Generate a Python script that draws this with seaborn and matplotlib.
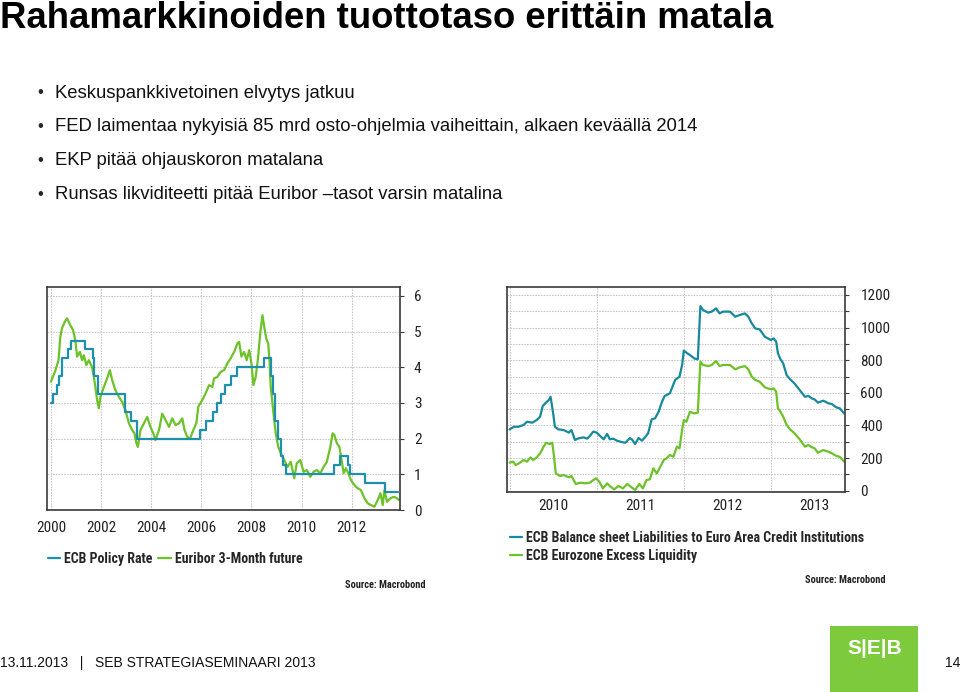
import numpy as np
import pandas as pd
import matplotlib
matplotlib.use("Agg")
import matplotlib.pyplot as plt
import matplotlib.font_manager as fm
from matplotlib.patches import Rectangle
import seaborn as sns

# --- data ---
policy_t = [2000.0, 2000.08, 2000.22, 2000.32, 2000.45, 2000.68, 2000.78, 2001.37, 2001.68,
            2001.71, 2001.87, 2002.94, 2003.19, 2003.45, 2005.93, 2006.2, 2006.47, 2006.62,
            2006.78, 2006.95, 2007.2, 2007.44, 2008.51, 2008.79, 2008.87, 2008.94, 2009.05,
            2009.19, 2009.27, 2009.36, 2011.28, 2011.53, 2011.86, 2011.95, 2012.53, 2013.35, 2013.85]
policy_rate = [3.0, 3.25, 3.5, 3.75, 4.25, 4.5, 4.75, 4.5, 4.25, 3.75, 3.25, 2.75, 2.5, 2.0, 2.25,
               2.5, 2.75, 3.0, 3.25, 3.5, 3.75, 4.0, 4.25, 3.75, 3.25, 2.5, 2.0, 1.5, 1.25, 1.0,
               1.25, 1.5, 1.25, 1.0, 0.75, 0.5, 0.5]

euribor_t = [2000.0, 2000.17, 2000.3, 2000.37, 2000.44, 2000.57, 2000.64, 2000.77, 2000.88, 2000.97,
             2001.04, 2001.15, 2001.24, 2001.31, 2001.41, 2001.51, 2001.64, 2001.71, 2001.77, 2001.84,
             2001.91, 2001.97, 2002.11, 2002.24, 2002.35, 2002.44, 2002.57, 2002.71, 2002.84, 2002.97,
             2003.11, 2003.24, 2003.33, 2003.41, 2003.47, 2003.57, 2003.71, 2003.84, 2003.97, 2004.08,
             2004.17, 2004.31, 2004.44, 2004.57, 2004.71, 2004.84, 2004.97, 2005.11, 2005.24, 2005.33,
             2005.44, 2005.55, 2005.68, 2005.8, 2005.88, 2006.04, 2006.17, 2006.31, 2006.44, 2006.51,
             2006.64, 2006.77, 2006.91, 2007.04, 2007.17, 2007.31, 2007.44, 2007.51, 2007.6, 2007.71,
             2007.81, 2007.91, 2008.0, 2008.08, 2008.17, 2008.27, 2008.35, 2008.44, 2008.51, 2008.59,
             2008.67, 2008.72, 2008.77, 2008.88, 2008.97, 2009.07, 2009.17, 2009.31, 2009.44, 2009.57,
             2009.71, 2009.81, 2009.95, 2010.08, 2010.21, 2010.35, 2010.48, 2010.61, 2010.75, 2010.88,
             2011.01, 2011.15, 2011.24, 2011.31, 2011.41, 2011.51, 2011.6, 2011.68, 2011.77, 2011.87,
             2011.97, 2012.11, 2012.24, 2012.37, 2012.51, 2012.64, 2012.77, 2012.91, 2013.04, 2013.15,
             2013.24, 2013.31, 2013.41, 2013.55, 2013.68, 2013.81, 2013.88]
euribor_v = [3.6, 3.9, 4.2, 4.85, 5.1, 5.3, 5.37, 5.18, 5.04, 4.76,
             4.3, 4.43, 4.2, 4.34, 4.06, 4.2, 4.0, 3.73, 3.45, 3.08,
             2.85, 3.17, 3.45, 3.69, 3.92, 3.64, 3.36, 3.17, 3.03, 2.8,
             2.43, 2.24, 2.15, 1.87, 1.77, 2.24, 2.43, 2.61, 2.33, 2.15,
             1.96, 2.24, 2.7, 2.52, 2.33, 2.57, 2.38, 2.43, 2.57, 2.24,
             2.05, 2.0, 2.24, 2.43, 2.9, 3.08, 3.27, 3.5, 3.45, 3.69,
             3.73, 3.87, 3.92, 4.11, 4.25, 4.43, 4.67, 4.71, 4.3, 4.43,
             4.2, 4.48, 4.11, 3.5, 3.73, 4.3, 4.95, 5.46, 5.14, 4.81,
             4.67, 4.2, 3.45, 2.71, 2.15, 1.77, 1.59, 1.4, 1.21, 1.35,
             0.89, 1.31, 1.4, 1.07, 1.12, 0.93, 1.07, 1.12, 1.03, 1.21,
             1.35, 1.77, 2.15, 2.1, 1.87, 1.77, 1.4, 1.03, 1.17, 1.03,
             0.84, 0.7, 0.61, 0.56, 0.33, 0.19, 0.14, 0.09, 0.28, 0.47,
             0.14, 0.56, 0.23, 0.33, 0.37, 0.33, 0.28]

balance_t = [2010.0, 2010.05, 2010.1, 2010.16, 2010.2, 2010.26, 2010.31, 2010.35, 2010.38, 2010.41,
             2010.45, 2010.47, 2010.5, 2010.52, 2010.56, 2010.62, 2010.68, 2010.71, 2010.75, 2010.79,
             2010.85, 2010.89, 2010.92, 2010.96, 2011.0, 2011.04, 2011.08, 2011.12, 2011.15, 2011.19,
             2011.23, 2011.29, 2011.33, 2011.38, 2011.41, 2011.44, 2011.48, 2011.52, 2011.56, 2011.59,
             2011.63, 2011.67, 2011.71, 2011.75, 2011.78, 2011.84, 2011.9, 2011.95, 2011.98, 2012.0,
             2012.03, 2012.07, 2012.12, 2012.16, 2012.19, 2012.22, 2012.28, 2012.32, 2012.37, 2012.41,
             2012.45, 2012.53, 2012.59, 2012.64, 2012.7, 2012.74, 2012.78, 2012.82, 2012.87, 2012.93,
             2013.0, 2013.03, 2013.06, 2013.08, 2013.11, 2013.14, 2013.18, 2013.22, 2013.27, 2013.33,
             2013.39, 2013.43, 2013.47, 2013.5, 2013.54, 2013.6, 2013.66, 2013.7, 2013.75, 2013.79, 2013.84]
balance_v = [376, 392, 392, 403, 423, 417, 433, 454, 519, 536,
             556, 576, 474, 392, 376, 372, 356, 372, 311, 321,
             327, 319, 335, 362, 356, 335, 315, 348, 315, 319,
             307, 298, 294, 323, 311, 286, 323, 307, 331, 352,
             437, 444, 484, 546, 581, 597, 679, 699, 771, 859,
             846, 832, 811, 805, 1132, 1108, 1092, 1098, 1118, 1087,
             1098, 1098, 1067, 1077, 1087, 1067, 1026, 995, 989, 944,
             924, 934, 914, 842, 805, 781, 709, 683, 658, 617,
             576, 581, 566, 560, 540, 552, 536, 531, 511, 505, 474]

liquidity_t = [2010.0, 2010.04, 2010.07, 2010.12, 2010.16, 2010.2, 2010.24, 2010.27, 2010.31, 2010.35,
               2010.39, 2010.42, 2010.46, 2010.49, 2010.51, 2010.53, 2010.58, 2010.62, 2010.68, 2010.71,
               2010.76, 2010.81, 2010.87, 2010.92, 2010.96, 2010.99, 2011.03, 2011.07, 2011.12, 2011.15,
               2011.2, 2011.25, 2011.3, 2011.35, 2011.38, 2011.44, 2011.49, 2011.53, 2011.57, 2011.61,
               2011.65, 2011.69, 2011.73, 2011.77, 2011.8, 2011.84, 2011.88, 2011.92, 2011.95, 2011.98,
               2012.0, 2012.03, 2012.07, 2012.12, 2012.16, 2012.19, 2012.22, 2012.28, 2012.32, 2012.37,
               2012.41, 2012.45, 2012.53, 2012.59, 2012.64, 2012.7, 2012.74, 2012.78, 2012.82, 2012.87,
               2012.93, 2013.0, 2013.03, 2013.06, 2013.08, 2013.11, 2013.14, 2013.18, 2013.22, 2013.27,
               2013.33, 2013.39, 2013.43, 2013.47, 2013.5, 2013.54, 2013.6, 2013.66, 2013.7, 2013.75,
               2013.79, 2013.84]
liquidity_v = [172, 178, 157, 172, 188, 178, 204, 188, 204, 229,
               270, 294, 286, 294, 208, 106, 90, 96, 82, 90,
               41, 49, 45, 49, 65, 76, 55, 14, 45, 29,
               8, 29, 14, 41, 29, 4, 41, 14, 65, 70,
               137, 106, 147, 188, 198, 219, 208, 270, 260, 372,
               433, 423, 484, 474, 478, 791, 771, 764, 771, 795,
               764, 771, 771, 744, 756, 764, 744, 699, 679, 668,
               634, 621, 628, 607, 505, 484, 454, 403, 376, 352,
               315, 270, 280, 266, 260, 233, 249, 239, 229, 213,
               208, 178]

left_years = [2000, 2002, 2004, 2006, 2008, 2010, 2012]
left_yticks = [0, 1, 2, 3, 4, 5, 6]
right_years = [2010, 2011, 2012, 2013]
right_yticks = [0, 200, 400, 600, 800, 1000, 1200]

title = "Rahamarkkinoiden tuottotaso erittäin matala"
bullets = ["Keskuspankkivetoinen elvytys jatkuu",
           "FED laimentaa nykyisiä 85 mrd osto-ohjelmia vaiheittain, alkaen keväällä 2014",
           "EKP pitää ohjauskoron matalana",
           "Runsas likviditeetti pitää Euribor \u2013tasot varsin matalina"]

BLUE = "#1f8fae"
TEAL = "#17899c"
GREEN = "#6cc228"
GRID = "#c9c9c9"

sns.set_theme(style="white")
plt.rcParams["font.family"] = ["Liberation Sans", "DejaVu Sans"]
names = {f.name for f in fm.fontManager.ttflist}
narrow = "Roboto"
for cand in ["Roboto Condensed", "Liberation Sans Narrow", "Open Sans Condensed", "Roboto"]:
    if cand in names:
        narrow = cand
        break
chart_font = [narrow, "DejaVu Sans"]

fig = plt.figure(figsize=(9.6, 6.92), dpi=100)

# header text
fig.text(0.0, 1 - 18 / 692, title, fontsize=26.3, fontweight="bold", va="center", ha="left", color="black")
for i, line in enumerate(bullets):
    y = 1 - (93 + i * 33.7) / 692
    fig.text(37 / 960, y, "\u2022", fontsize=12, va="center", ha="left")
    fig.text(55 / 960, y, line, fontsize=13.3, va="center", ha="left", color="#111111")


def style_axes(ax):
    for s in ax.spines.values():
        s.set_color("#3a3a3a")
        s.set_linewidth(1.2)
    ax.yaxis.tick_right()
    ax.tick_params(axis="both", which="both", colors="#3a3a3a", labelcolor="#222222",
                   labelsize=11, length=3, width=0.8)
    for lab in ax.get_xticklabels(which="both") + ax.get_yticklabels(which="both"):
        lab.set_family(chart_font)
        lab.set_stretch("condensed")
    ax.set_xlabel("")
    ax.set_ylabel("")


leg_prop = {"family": chart_font, "size": 10, "weight": "bold", "stretch": "condensed"}

# left chart
ax1 = fig.add_axes([47 / 960, 1 - 510 / 692, 353 / 960, 223 / 692])
pol = pd.DataFrame({"t": policy_t, "v": policy_rate})
eur = pd.DataFrame({"t": euribor_t, "v": euribor_v})
sns.lineplot(data=eur, x="t", y="v", ax=ax1, color=GREEN, lw=1.6, label="Euribor 3-Month future")
sns.lineplot(data=pol, x="t", y="v", ax=ax1, color=BLUE, lw=1.6, drawstyle="steps-post",
             label="ECB Policy Rate")
ax1.set_xlim(1999.84, 2013.93)
ax1.set_ylim(0, 6.25)
ax1.set_xticks(left_years)
ax1.set_xticklabels([str(y) for y in left_years])
ax1.set_yticks(left_yticks)
ax1.grid(True, color=GRID, linestyle=(0, (1.5, 1)), linewidth=0.8)
ax1.set_axisbelow(True)
style_axes(ax1)
ax1.tick_params(axis="x", pad=5)
ax1.tick_params(axis="y", pad=7)
h, l = ax1.get_legend_handles_labels()
ax1.legend(h[::-1], l[::-1], loc="upper left", bbox_to_anchor=(42 / 960, 1 - 546 / 692),
           bbox_transform=fig.transFigure, ncol=2, frameon=False, handlelength=0.9,
           handletextpad=0.3, columnspacing=0.4, borderaxespad=0, prop=leg_prop)
fig.text(385 / 960, 1 - 585 / 692, "Source: Macrobond", ha="center", va="center", fontsize=7.5,
         fontweight="bold", family=chart_font, fontstretch="condensed", color="#222222")

# right chart
ax2 = fig.add_axes([507 / 960, 1 - 492 / 692, 338 / 960, 205 / 692])
bal = pd.DataFrame({"t": balance_t, "v": balance_v})
liq = pd.DataFrame({"t": liquidity_t, "v": liquidity_v})
sns.lineplot(data=bal, x="t", y="v", ax=ax2, color=TEAL, lw=1.6,
             label="ECB Balance sheet Liabilities to Euro Area Credit Institutions")
sns.lineplot(data=liq, x="t", y="v", ax=ax2, color=GREEN, lw=1.6, label="ECB Eurozone Excess Liquidity")
ax2.set_xlim(2009.97, 2013.85)
ax2.set_ylim(-8, 1249)
ax2.set_xticks(right_years)
ax2.set_xticklabels([])
ax2.set_xticks([y + 0.5 for y in right_years], minor=True)
ax2.set_xticklabels([str(y) for y in right_years], minor=True)
ax2.set_yticks(right_yticks)
ax2.set_yticks(range(100, 1200, 200), minor=True)
ax2.grid(True, which="major", color=GRID, linestyle=(0, (1.5, 1)), linewidth=0.8)
ax2.grid(True, which="minor", axis="y", color=GRID, linestyle=(0, (1.5, 1)), linewidth=0.8)
ax2.set_axisbelow(True)
style_axes(ax2)
ax2.tick_params(axis="x", which="minor", length=0, pad=5)
ax2.tick_params(axis="x", which="major", length=4)
ax2.tick_params(axis="y", which="minor", length=3)
ax2.tick_params(axis="y", which="major", length=3, pad=8)
ax2.legend(loc="upper left", bbox_to_anchor=(504 / 960, 1 - 525 / 692),
           bbox_transform=fig.transFigure, ncol=1, frameon=False, handlelength=0.9,
           handletextpad=0.3, labelspacing=0.3, borderaxespad=0, prop=leg_prop)
fig.text(845 / 960, 1 - 580 / 692, "Source: Macrobond", ha="center", va="center", fontsize=7.5,
         fontweight="bold", family=chart_font, fontstretch="condensed", color="#222222")

# footer
fig.text(0.0, 1 - 663 / 692, "13.11.2013   |   SEB STRATEGIASEMINAARI 2013", fontsize=10,
         va="center", ha="left", color="#111111")
fig.add_artist(Rectangle((830 / 960, 0), 88 / 960, 66 / 692, transform=fig.transFigure,
                         facecolor="#7dcb3c", edgecolor="none"))
fig.text(875 / 960, 1 - 648 / 692, "S|E|B", fontsize=15, fontweight="bold", color="white",
         ha="center", va="center")
fig.text(953 / 960, 1 - 663 / 692, "14", fontsize=10, va="center", ha="center", color="#111111")

fig.savefig("out.png", dpi=100)
